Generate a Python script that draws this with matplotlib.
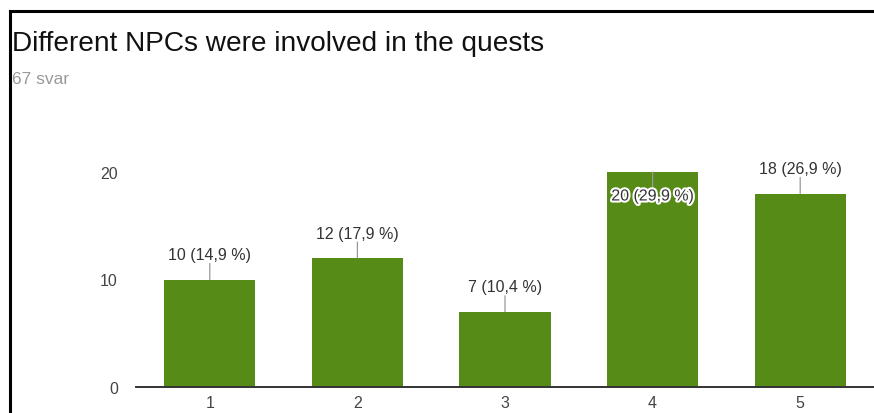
import matplotlib
matplotlib.use("Agg")
import matplotlib.pyplot as plt
import matplotlib.patheffects as pe
from matplotlib.lines import Line2D

plt.rcParams['font.family'] = ['Liberation Sans', 'DejaVu Sans']

title = "Different NPCs were involved in the quests"
subtitle = "67 svar"
categories = ["1", "2", "3", "4", "5"]
values = [10, 12, 7, 20, 18]
pct_labels = ["14,9", "17,9", "10,4", "29,9", "26,9"]
yticks = [0, 10, 20]

W, H = 874, 414
fig = plt.figure(figsize=(W / 100, H / 100), dpi=100)

# axes placement: x from 136px to 874px, y=0 at 388px, 10 units = 107.5 px
ymax = 22
left = 136 / W
bottom = 1 - 388 / H
height = (ymax * 10.75) / H
ax = fig.add_axes([left, bottom, 1 - left, height])

xs = list(range(1, len(values) + 1))
bar_color = "#578b17"
ax.bar(xs, values, width=0.617, color=bar_color, zorder=2)
ax.set_xlim(0.5, 5.5)
ax.set_ylim(0, ymax)

for s in ["top", "right", "left"]:
    ax.spines[s].set_visible(False)
ax.spines["bottom"].set_color("#333333")
ax.spines["bottom"].set_linewidth(1.4)
ax.spines["bottom"].set_zorder(3)

ax.set_yticks(yticks)
ax.set_yticklabels([str(t) for t in yticks])
ax.set_xticks(xs)
ax.set_xticklabels(categories)
ax.tick_params(axis="y", length=0, pad=13, labelsize=11.5, labelcolor="#444444")
ax.tick_params(axis="x", length=0, pad=6, labelsize=11.5, labelcolor="#444444")

halo = [pe.withStroke(linewidth=3, foreground="white")]
for x, v, p in zip(xs, values, pct_labels):
    label = f"{v} ({p} %)"
    if v >= 20:
        # label inside bar
        ax.annotate("", xy=(x, v), xytext=(0, -17), textcoords="offset pixels",
                    arrowprops=dict(arrowstyle="-", color="#999999", lw=0.9,
                                    shrinkA=0, shrinkB=0), zorder=4)
        ax.annotate(label, xy=(x, v), xytext=(0, -24), textcoords="offset pixels",
                    ha="center", va="center", fontsize=11.5, color="#333333",
                    path_effects=halo, zorder=5)
    else:
        ax.annotate("", xy=(x, v), xytext=(0, 16), textcoords="offset pixels",
                    arrowprops=dict(arrowstyle="-", color="#999999", lw=0.9,
                                    shrinkA=0, shrinkB=0), zorder=4)
        ax.annotate(label, xy=(x, v), xytext=(0, 25), textcoords="offset pixels",
                    ha="center", va="center", fontsize=11.5, color="#333333",
                    zorder=5)

fig.text(12 / W, 1 - 44 / H, title, fontsize=20.2, color="#111111", ha="left", va="center")
fig.text(12 / W, 1 - 80 / H, subtitle, fontsize=12.5, color="#999999", ha="left", va="center")

# frame lines (top and left)
fig.add_artist(Line2D([9.5 / W, 1], [1 - 11.5 / H, 1 - 11.5 / H], color="black", lw=2.2,
                      transform=fig.transFigure))
fig.add_artist(Line2D([9.5 / W, 9.5 / W], [1 - 11.5 / H, 0], color="black", lw=2.2,
                      transform=fig.transFigure))

fig.savefig("out.png", dpi=100)
